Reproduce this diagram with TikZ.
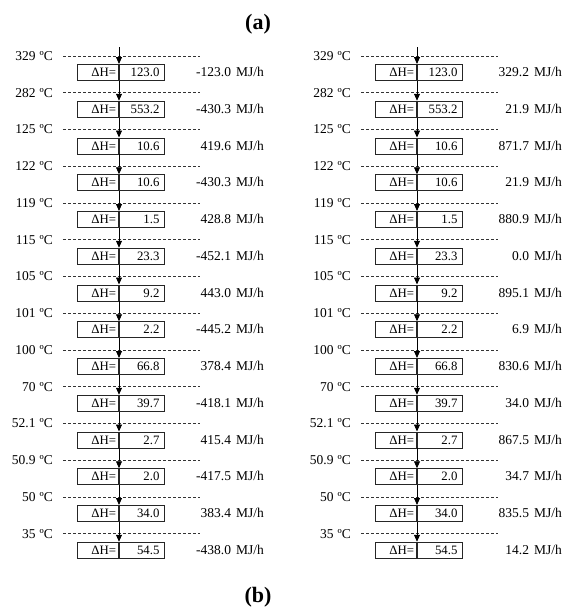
\documentclass[tikz,border=0pt]{standalone}
\usepackage{fontspec}
\setmainfont{Liberation Serif}
\usetikzlibrary{arrows.meta}
\begin{document}
\begin{tikzpicture}[x=1pt,y=-1pt,
  txt/.style={inner sep=0pt,font=\fontsize{13.5}{15}\selectfont},
  cellL/.style={draw=black!85,line width=0.8pt,minimum height=16pt,inner ysep=0pt,inner xsep=2.5pt,text width=36pt,align=right,anchor=north east,font=\fontsize{12.8}{15}\selectfont},
  cellR/.style={draw=black!85,line width=0.8pt,minimum height=16pt,inner ysep=0pt,inner xsep=5pt,text width=35pt,align=right,anchor=north west,font=\fontsize{12.8}{15}\selectfont},
  dashline/.style={draw=black!80,line width=0.6pt,dash pattern=on 3pt off 2pt},
  flow/.style={draw=black,line width=0.8pt,-{Triangle[length=7pt,width=6pt]}},
  title/.style={inner sep=0pt,font=\bfseries\fontsize{22}{25}\selectfont}]
\useasboundingbox (0,0) rectangle (563,608);
\node[title] (ta) at (258,24) {(a)};
\node[title] (tb) at (258,597) {(b)};
\foreach \p/\ox in {0/0,1/298}{
  \coordinate (top\p) at (119+\ox,47);
  \foreach \T/\dH/\Qa/\Qb [count=\i from 0] in {329/123.0/-123.0/329.2, 282/553.2/-430.3/21.9, 125/10.6/419.6/871.7, 122/10.6/-430.3/21.9, 119/1.5/428.8/880.9, 115/23.3/-452.1/0.0, 105/9.2/443.0/895.1, 101/2.2/-445.2/6.9, 100/66.8/378.4/830.6, 70/39.7/-418.1/34.0, 52.1/2.7/415.4/867.5, 50.9/2.0/-417.5/34.7, 50/34.0/383.4/835.5, 35/54.5/-438.0/14.2}{
    \pgfmathsetmacro{\yy}{56+36.75*\i}
    \coordinate (dl\p-\i) at (63+\ox,\yy);
    \coordinate (dr\p-\i) at (200+\ox,\yy);
    \draw[dashline] (dl\p-\i) -- (dr\p-\i);
    \node[txt,anchor=east] (t\p-\i) at (53+\ox,\yy) {\T\hspace{4pt}ºC};
    \node[cellL] (a\p-\i) at (119+\ox,\yy+8) {ΔH=};
    \node[cellR] (b\p-\i) at (119+\ox,\yy+8) {\dH};
    \ifnum\p=0
      \node[txt,anchor=east] (q\p-\i) at (264+\ox,\yy+16) {\Qa\hspace{5pt}MJ/h};
    \else
      \node[txt,anchor=east] (q\p-\i) at (264+\ox,\yy+16) {\Qb\hspace{5pt}MJ/h};
    \fi
  }
  \draw[flow] (top\p) -- (a\p-0.north east);
  \foreach \i in {1,...,13}{
    \pgfmathtruncatemacro{\j}{\i-1}
    \draw[flow] (a\p-\j.south east) -- (a\p-\i.north east);
  }
}
\end{tikzpicture}
\end{document}
